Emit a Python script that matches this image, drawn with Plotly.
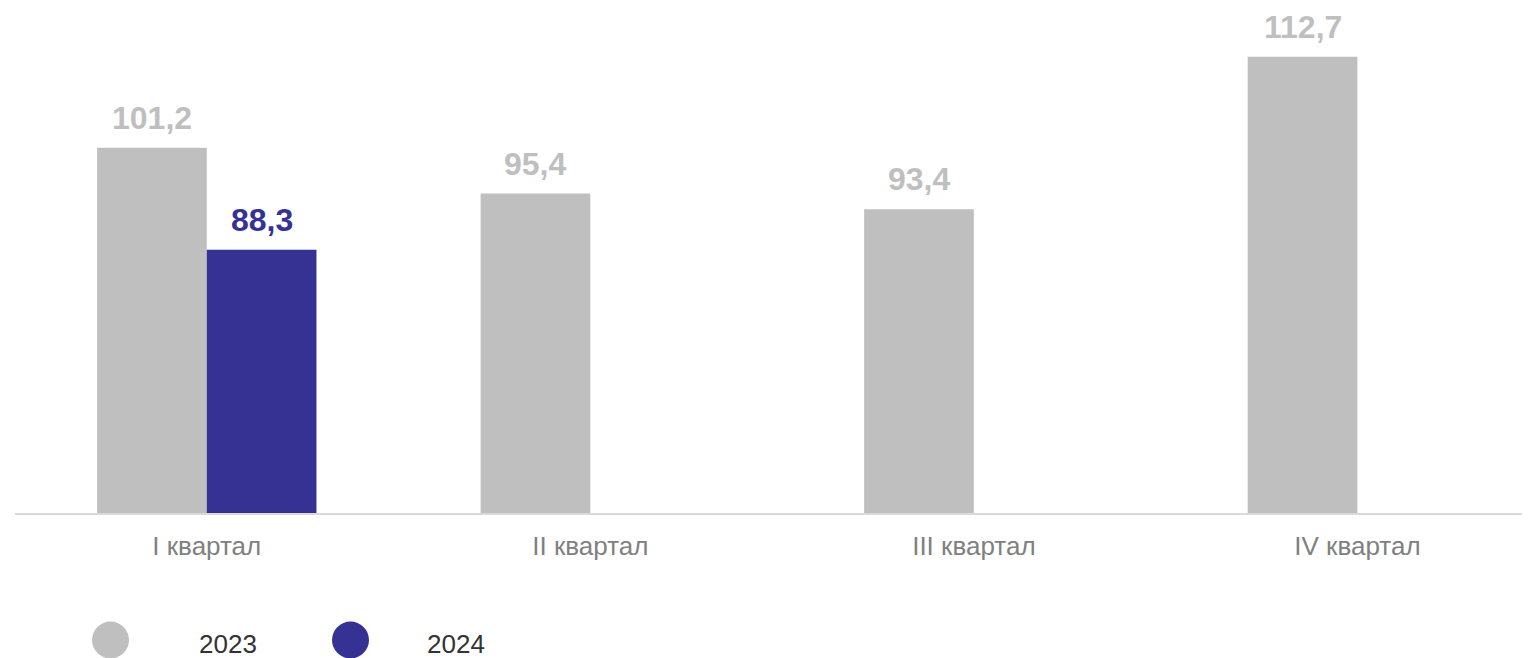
import plotly.graph_objects as go

categories = ["I квартал", "II квартал", "III квартал", "IV квартал"]
series_names = ["2023", "2024"]
values_2023 = [101.2, 95.4, 93.4, 112.7]
values_2024 = [88.3, None, None, None]

GRAY = "#BFBFBF"
BLUE = "#363294"
FONT = "Arial, Liberation Sans, sans-serif"

# page body has an 8px margin; size the figure so it sits inside the window
OFF = 8
W, H = 1530 - OFF, 658 - OFF
ML, MR, MT, MB = 15 - OFF, 0, 0, 145
plot_w = W - ML - MR
plot_h = H - MT - MB

def fmt(v):
    return f"{v:.1f}".replace(".", ",")

fig = go.Figure()
fig.add_trace(go.Bar(x=categories, y=values_2023, name=series_names[0],
                     marker=dict(color=GRAY, line=dict(width=0)), showlegend=False))
fig.add_trace(go.Bar(x=categories, y=values_2024, name=series_names[1],
                     marker=dict(color=BLUE, line=dict(width=0)), showlegend=False))

bar_px = 0.286 * plot_w / 3.95
annotations = []
for vals, col, shift in [(values_2023, GRAY, -bar_px / 2), (values_2024, BLUE, bar_px / 2)]:
    for c, v in zip(categories, vals):
        if v is None:
            continue
        annotations.append(dict(x=c, y=v, xref="x", yref="y", text="<b>" + fmt(v) + "</b>",
                                showarrow=False, yanchor="bottom", xanchor="center",
                                xshift=shift, yshift=10,
                                font=dict(family=FONT, size=32, color=col)))

# legend drawn manually (large circle markers); coordinates in reference page pixels
legend_items = [(series_names[0], GRAY, 110.5, 197), (series_names[1], BLUE, 350.5, 425)]
shapes = []
for name, col, cx, tx in legend_items:
    px = (cx - OFF - ML) / plot_w
    py = (MT + plot_h - (640 - OFF)) / plot_h
    shapes.append(dict(type="circle", xref="paper", yref="paper", xsizemode="pixel", ysizemode="pixel",
                       xanchor=px, yanchor=py, x0=-18.5, x1=18.5, y0=-18.5, y1=18.5,
                       fillcolor=col, line=dict(width=0)))
    annotations.append(dict(x=(tx - OFF - ML) / plot_w, y=(MT + plot_h - (644 - OFF)) / plot_h,
                            xref="paper", yref="paper",
                            text=name, showarrow=False, xanchor="left", yanchor="middle",
                            font=dict(family=FONT, size=26, color="#333333")))

fig.update_layout(
    width=W, height=H,
    margin=dict(l=ML, r=MR, t=MT, b=MB, autoexpand=False),
    barmode="group", bargap=0.428, bargroupgap=0,
    plot_bgcolor="white", paper_bgcolor="white",
    font=dict(family=FONT),
    annotations=annotations, shapes=shapes,
    showlegend=False,
)
fig.update_xaxes(type="category", range=[-0.5, 3.45], showline=True, linecolor="#D9D9D9", linewidth=2,
                 showgrid=False, ticks="", ticklabelstandoff=9, automargin=False,
                 tickfont=dict(family=FONT, size=26, color="#808080"))
fig.update_yaxes(range=[55, 55 + plot_h / 7.907], visible=False, showgrid=False, zeroline=False,
                 automargin=False)

fig.write_html("out.html")
